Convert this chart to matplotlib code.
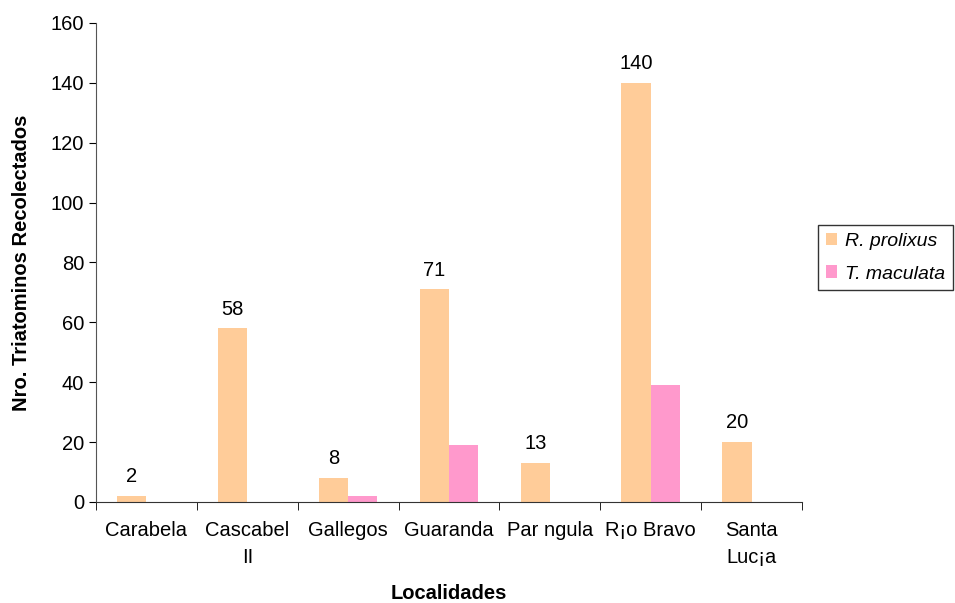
import numpy as np
import matplotlib.pyplot as plt

plt.rcParams['font.family'] = ['Liberation Sans', 'DejaVu Sans']

localidades = ['Carabela', 'Cascabel\nII', 'Gallegos', 'Guaranda', 'Par ngula', 'R¡o Bravo', 'Santa\nLuc¡a']
prolixus = [2, 58, 8, 71, 13, 140, 20]
maculata = [0, 0, 2, 19, 0, 39, 0]

fs = 14.5
fig = plt.figure(figsize=(9.55, 6.03), dpi=100)
ax = fig.add_axes([0.1005, 0.1675, 0.7393, 0.7944])

x = np.arange(len(localidades))
w = 0.29
ax.bar(x - w / 2, prolixus, w, color='#FFCC99', label='R. prolixus')
ax.bar(x + w / 2, maculata, w, color='#FF99CC', label='T. maculata')

for xi, v in zip(x, prolixus):
    ax.annotate(str(v), (xi - w / 2, v), xytext=(0, 7), textcoords='offset points',
                ha='center', va='bottom', fontsize=fs)

ax.set_xlim(-0.5, len(localidades) - 0.5)
ax.set_ylim(0, 160)
ax.set_yticks(range(0, 161, 20))
ax.tick_params(axis='y', labelsize=fs, direction='out', length=5)
ax.set_xticks(x)
ax.set_xticklabels(localidades, fontsize=fs, va='top', linespacing=1.5)
ax.tick_params(axis='x', length=0, pad=14)
ax.set_xticks(np.arange(-0.5, len(localidades)), minor=True)
ax.tick_params(axis='x', which='minor', length=6, direction='out')

for s in ['top', 'right']:
    ax.spines[s].set_visible(False)
ax.spines['left'].set_color('#555555')
ax.spines['bottom'].set_color('#333333')

ax.set_ylabel('Nro. Triatominos Recolectados', fontsize=fs, fontweight='bold', labelpad=14)
ax.set_xlabel('Localidades', fontsize=fs, fontweight='bold', labelpad=12)

leg = ax.legend(loc='upper left', bbox_to_anchor=(1.0227, 0.578), borderaxespad=0,
                prop={'style': 'italic', 'size': 14}, fancybox=False, edgecolor='black',
                handlelength=0.6, handleheight=0.6, handletextpad=0.4, borderpad=0.4,
                labelspacing=0.8)
leg.get_frame().set_linewidth(1.0)

fig.savefig('out.png', dpi=100)
